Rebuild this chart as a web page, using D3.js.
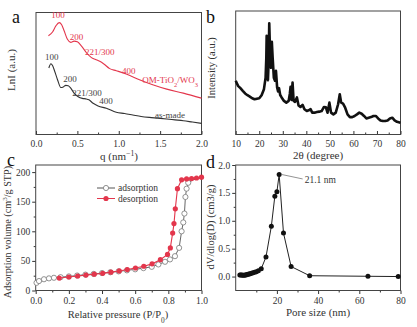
<!DOCTYPE html>
<html>
<head>
<meta charset="utf-8">
<script src="https://cdnjs.cloudflare.com/ajax/libs/d3/7.8.5/d3.min.js"></script>
<style>
body { margin: 0; background: #fff; }
svg text { font-family: "Liberation Serif", "DejaVu Serif", serif !important; }
</style>
</head>
<body>
<svg id="fig" width="417" height="327" font-family="Liberation Serif"></svg>
<script>
// Panel a: SAXS curves (arbitrary LnI units)
const qRed = [0.15, 0.2, 0.24, 0.28, 0.31, 0.34, 0.38, 0.42, 0.46, 0.5, 0.55, 0.61, 0.67, 0.72, 0.77, 0.82, 0.89, 0.97, 1.09, 1.25, 1.41, 1.58, 1.78, 2.0];
const lnIRed = [81, 84, 89, 91.7, 90, 85, 78, 75.5, 76.5, 76, 72.5, 67, 63, 61.5, 60, 57.8, 54, 52.3, 49.6, 44.9, 40.8, 37.2, 33.9, 29.8];
const qBlack = [0.155, 0.18, 0.2, 0.23, 0.26, 0.3, 0.33, 0.36, 0.39, 0.42, 0.46, 0.51, 0.56, 0.6, 0.64, 0.69, 0.75, 0.85, 0.97, 1.07, 1.17, 1.27, 1.37, 1.47, 1.58, 1.68, 1.78, 1.89, 2.0];
const lnIBlack = [54.5, 58, 56.5, 51, 44.9, 38.5, 39, 40.3, 40, 38, 33.9, 31, 29.6, 29.2, 28.4, 25.6, 23.4, 21.5, 18.2, 17.2, 16, 14.8, 14, 13.4, 12.7, 12, 11.3, 10.2, 9.1];
const redPeaks = ["100", "200", "221/300", "400"];
const redPeakQ = [0.265, 0.49, 0.77, 1.12];
const redPeakY = [95.9, 77.7, 65.4, 49.7];
const blackPeaks = ["100", "200", "221/300", "400"];
const blackPeakQ = [0.19, 0.41, 0.615, 0.845];
const blackPeakY = [61.3, 43.1, 31.8, 25];

// Panel b: XRD pattern
const twoTheta = [10, 11, 12, 13, 14, 15, 16, 17, 18, 19, 20, 21, 22, 22.7, 23.0, 23.15, 23.4, 23.7, 24.0, 24.25, 24.6, 25.0, 25.35, 25.7, 26.2, 26.7, 27.1, 27.6, 28.0, 28.4, 28.9, 29.5, 30.5, 31.5, 32.5, 33.0, 33.3, 33.7, 34.15, 34.6, 35.2, 36.0, 36.7, 37.5, 38.4, 39.2, 40.2, 41.0, 41.8, 42.5, 43.5, 44.5, 45.5, 46.5, 47.5, 48.3, 49.0, 49.8, 50.5, 51.5, 52.5, 53.5, 54.2, 54.8, 55.6, 56.5, 57.5, 58.5, 59.5, 60.5, 61.5, 62.5, 63.5, 64.5, 65.5, 66.5, 67.5, 68.5, 69.5, 70.5, 71.5, 72.5, 73.5, 74.5, 75.5, 76.5, 77.5, 78.5, 80];
const intensity = [43.5, 39.4, 37.5, 35.3, 33.2, 31.8, 30.7, 29.3, 28.5, 29, 29.3, 31.8, 36.7, 46, 62, 80, 60, 44, 60, 90, 66, 54, 75, 62, 46, 43.5, 51.6, 38, 34.8, 37.5, 32, 30, 27.2, 25.8, 27.2, 33, 38.6, 28, 42, 27.2, 26.5, 30, 23.5, 22.3, 24, 20.4, 19, 19.6, 20.5, 17.7, 17.7, 18.2, 18.5, 19, 22.3, 22, 17.7, 25.8, 17.7, 16.3, 17.7, 24.5, 32.6, 25.8, 25, 21.7, 16.3, 14.1, 14.1, 15, 16.3, 17.7, 16.8, 15, 13, 13.6, 14.1, 15, 15, 13, 11.4, 10.9, 10.9, 11.4, 13, 13.6, 11.4, 10.3, 9.5];

// Panel c: N2 isotherm
const pAds = [0.005, 0.02, 0.05, 0.08, 0.11, 0.15, 0.2, 0.25, 0.3, 0.35, 0.4, 0.45, 0.5, 0.55, 0.6, 0.65, 0.7, 0.74, 0.78, 0.81, 0.84, 0.865, 0.88, 0.89, 0.897, 0.903, 0.91, 0.92];
const vAds = [13, 16, 19, 20.5, 21.5, 22.5, 23.8, 25.3, 26.8, 28, 29.4, 30.8, 32.3, 34, 35.8, 37.8, 40, 44, 48.5, 52.5, 58, 72, 100, 115, 130, 158, 172, 182];
const pAdsTail = [0.95, 0.98, 0.995];
const vAdsTail = [187, 189, 190.5];
const pDes = [1.0, 0.97, 0.94, 0.91, 0.88, 0.855, 0.842, 0.834, 0.826, 0.812, 0.795, 0.752, 0.702, 0.652, 0.602, 0.552, 0.504, 0.454, 0.404, 0.353, 0.303, 0.253, 0.2, 0.142];
const vDes = [191.5, 190, 189, 188.5, 187, 172, 138, 113, 97, 72, 61, 52, 45, 41, 38, 35.4, 33, 31, 29, 27.5, 26, 24.5, 22.8, 21];
const legendNames = ["adsorption", "desorption"];

// Panel d: pore size distribution
const poreSize = [2.0, 2.5, 3.0, 3.5, 4.0, 4.5, 5.0, 5.5, 6.0, 6.5, 7.0, 7.7, 8.4, 9.2, 10.0, 11.0, 12.4, 14.7, 17.3, 19.0, 20.0, 21.1, 23.2, 26.9, 35.9, 64.2, 78.9];
const dvdlogD = [0.03, 0.03, 0.028, 0.025, 0.025, 0.028, 0.03, 0.035, 0.04, 0.045, 0.05, 0.058, 0.066, 0.076, 0.088, 0.105, 0.14, 0.35, 0.9, 1.44, 1.52, 1.83, 0.78, 0.18, 0.015, 0.005, 0.0];

const red = "#e3364c";
const serif = '"Liberation Serif", "DejaVu Serif", serif';
const svg = d3.select("#fig");

function addPanel(box, xDom, yDom, o) {
  const x = d3.scaleLinear().domain(xDom).range([box.l, box.r]);
  const y = d3.scaleLinear().domain(yDom).range([box.b, box.t]);
  const dir = o.inward ? -1 : 1;
  const g = svg.append("g");

  g.append("g").attr("transform", `translate(0,${box.b})`)
    .call(d3.axisBottom(x).tickValues(o.xTicks).tickFormat(o.xFmt)
      .tickSizeInner(dir * 3.5).tickSizeOuter(0).tickPadding(o.inward ? 6 : 3));
  g.append("g").attr("transform", `translate(0,${box.b})`)
    .call(d3.axisBottom(x).tickValues(o.xMinor).tickFormat("").tickSizeInner(dir * 2).tickSizeOuter(0));

  if (o.yTicks) {
    g.append("g").attr("transform", `translate(${box.l},0)`)
      .call(d3.axisLeft(y).tickValues(o.yTicks).tickFormat(o.yFmt)
        .tickSizeInner(3.5).tickSizeOuter(0).tickPadding(2));
    g.append("g").attr("transform", `translate(${box.l},0)`)
      .call(d3.axisLeft(y).tickValues(o.yMinor).tickFormat("").tickSizeInner(2).tickSizeOuter(0));
  }
  g.selectAll("g").attr("font-family", serif);
  g.selectAll(".domain").remove();
  g.selectAll(".tick line").attr("stroke", "#333");
  g.selectAll(".tick text").attr("fill", "#333").style("font-size", "9.5px");

  g.append("rect").attr("x", box.l).attr("y", box.t)
    .attr("width", box.r - box.l).attr("height", box.b - box.t)
    .attr("fill", "none").attr("stroke", "#444").attr("stroke-width", 1);

  svg.append("text").attr("x", o.letter[0]).attr("y", o.letter[1])
    .style("font-size", "18px").attr("fill", "#111").text(o.letterText);
  return { x, y, g };
}

function title(cx, cy, parts, size, vertical) {
  const t = svg.append("text")
    .attr("transform", vertical ? `translate(${cx},${cy}) rotate(-90)` : `translate(${cx},${cy})`)
    .attr("text-anchor", "middle").style("font-size", size + "px").attr("fill", "#333");
  parts.forEach(p => {
    const s = t.append("tspan").text(p[0]);
    if (p[1] === "sup") s.attr("baseline-shift", "super").style("font-size", (size * 0.7) + "px");
    if (p[1] === "sub") s.attr("baseline-shift", "sub").style("font-size", (size * 0.7) + "px");
  });
}

// ---- panel a ----
const pa = addPanel({ l: 36, r: 201.5, t: 12.5, b: 134.5 }, [0, 2], [0, 100], {
  inward: true,
  xTicks: [0, 0.5, 1, 1.5, 2], xFmt: d3.format(".1f"),
  xMinor: [0.25, 0.75, 1.25, 1.75],
  letter: [12, 23], letterText: "a"
});
const lineA = d3.line().x(d => pa.x(d[0])).y(d => pa.y(d[1])).curve(d3.curveMonotoneX);
svg.append("path").datum(d3.zip(qRed, lnIRed)).attr("d", lineA)
  .attr("fill", "none").attr("stroke", red).attr("stroke-width", 1.1);
svg.append("path").datum(d3.zip(qBlack, lnIBlack)).attr("d", lineA)
  .attr("fill", "none").attr("stroke", "#333").attr("stroke-width", 1.1);
redPeaks.forEach((t, i) => {
  svg.append("text").attr("x", pa.x(redPeakQ[i])).attr("y", pa.y(redPeakY[i]))
    .attr("text-anchor", "middle").style("font-size", "9px").attr("fill", red).text(t);
});
blackPeaks.forEach((t, i) => {
  svg.append("text").attr("x", pa.x(blackPeakQ[i])).attr("y", pa.y(blackPeakY[i]))
    .attr("text-anchor", "middle").style("font-size", "9px").attr("fill", "#444").text(t);
});
const om = svg.append("text").attr("x", pa.x(1.62)).attr("y", pa.y(41.9))
  .attr("text-anchor", "middle").style("font-size", "9px").attr("fill", red);
om.append("tspan").text("OM-TiO");
om.append("tspan").text("2").attr("baseline-shift", "sub").style("font-size", "6.5px");
om.append("tspan").text("/WO");
om.append("tspan").text("3").attr("baseline-shift", "sub").style("font-size", "6.5px");
svg.append("text").attr("x", pa.x(1.62)).attr("y", pa.y(13.9))
  .attr("text-anchor", "middle").style("font-size", "9px").attr("fill", "#444").text("as-made");
title(15, 70, [["LnI (a.u.)"]], 11, true);
title(119, 160, [["q (nm"], ["\u22121", "sup"], [")"]], 11, false);

// ---- panel b ----
const pb = addPanel({ l: 235.7, r: 400.5, t: 11, b: 134.5 }, [10, 80], [0, 100], {
  inward: true,
  xTicks: d3.range(10, 81, 10), xFmt: d3.format("d"),
  xMinor: d3.range(15, 80, 10),
  letter: [206, 23], letterText: "b"
});
svg.append("path").datum(d3.zip(twoTheta, intensity))
  .attr("d", d3.line().x(d => pb.x(d[0])).y(d => pb.y(d[1])))
  .attr("fill", "none").attr("stroke", "#111").attr("stroke-width", 2.6)
  .attr("stroke-linejoin", "round");
title(215, 68, [["Intensity (a.u.)"]], 10.5, true);
title(318, 159, [["2\u03b8 (degree)"]], 11, false);

// ---- panel c ----
const pc = addPanel({ l: 35.7, r: 201.5, t: 165, b: 290.5 }, [0, 1], [0, 212], {
  inward: false,
  xTicks: [0, 0.2, 0.4, 0.6, 0.8, 1.0], xFmt: d3.format(".1f"),
  xMinor: [0.1, 0.3, 0.5, 0.7, 0.9],
  yTicks: [0, 50, 100, 150, 200], yFmt: d3.format("d"),
  yMinor: [25, 75, 125, 175],
  letter: [7, 166], letterText: "c"
});
const lineC = d3.line().x(d => pc.x(d[0])).y(d => pc.y(d[1]));
svg.append("path").datum(d3.zip(pAds.concat(pAdsTail), vAds.concat(vAdsTail))).attr("d", lineC)
  .attr("fill", "none").attr("stroke", "#555").attr("stroke-width", 0.9);
svg.selectAll(".ads").data(d3.zip(pAds, vAds)).join("circle")
  .attr("cx", d => pc.x(d[0])).attr("cy", d => pc.y(d[1])).attr("r", 2.6)
  .attr("fill", "#fff").attr("stroke", "#777").attr("stroke-width", 0.8);
svg.append("path").datum(d3.zip(pDes, vDes)).attr("d", lineC)
  .attr("fill", "none").attr("stroke", red).attr("stroke-width", 1.1);
svg.selectAll(".des").data(d3.zip(pDes, vDes)).join("circle")
  .attr("cx", d => pc.x(d[0])).attr("cy", d => pc.y(d[1])).attr("r", 2.6)
  .attr("fill", red);
// legend
legendNames.forEach((name, i) => {
  const ly = 188 + i * 10.5;
  const col = i === 0 ? "#555" : red;
  svg.append("line").attr("x1", 97).attr("x2", 115).attr("y1", ly).attr("y2", ly)
    .attr("stroke", col).attr("stroke-width", 1);
  const c = svg.append("circle").attr("cx", 106).attr("cy", ly).attr("r", 2.6);
  if (i === 0) c.attr("fill", "#fff").attr("stroke", "#777").attr("stroke-width", 0.8);
  else c.attr("fill", red);
  svg.append("text").attr("x", 118).attr("y", ly + 3).style("font-size", "9.5px")
    .attr("fill", "#333").text(name);
});
title(11, 232, [["Adsorption volume (cm"], ["3", "sup"], ["/g STP)"]], 10.2, true);
title(118, 318, [["Relative pressure (P/P"], ["0", "sub"], [")"]], 10.5, false);

// ---- panel d ----
const pd = addPanel({ l: 235.7, r: 400.5, t: 165, b: 290.5 }, [0, 80], [-0.25, 2.0], {
  inward: false,
  xTicks: [20, 40, 60, 80], xFmt: d3.format("d"),
  xMinor: [10, 30, 50, 70],
  yTicks: [0, 0.5, 1.0, 1.5, 2.0], yFmt: d3.format(".1f"),
  yMinor: [0.25, 0.75, 1.25, 1.75],
  letter: [206, 168], letterText: "d"
});
svg.append("path").datum(d3.zip(poreSize, dvdlogD))
  .attr("d", d3.line().x(d => pd.x(d[0])).y(d => pd.y(d[1])))
  .attr("fill", "none").attr("stroke", "#222").attr("stroke-width", 1);
svg.selectAll(".psd").data(d3.zip(poreSize, dvdlogD)).join("circle")
  .attr("cx", d => pd.x(d[0])).attr("cy", d => pd.y(d[1])).attr("r", 2.5)
  .attr("fill", "#111");
svg.append("line").attr("x1", pd.x(22.3)).attr("y1", pd.y(1.83))
  .attr("x2", pd.x(32.5)).attr("y2", pd.y(1.75)).attr("stroke", "#777").attr("stroke-width", 0.8);
svg.append("text").attr("x", pd.x(33.5)).attr("y", pd.y(1.68)).style("font-size", "9.5px")
  .attr("fill", "#333").text("21.1 nm");
title(214, 227, [["dV/dlog(D) (cm3/g)"]], 10.5, true);
title(318, 316, [["Pore size (nm)"]], 11, false);
</script>
</body>
</html>
